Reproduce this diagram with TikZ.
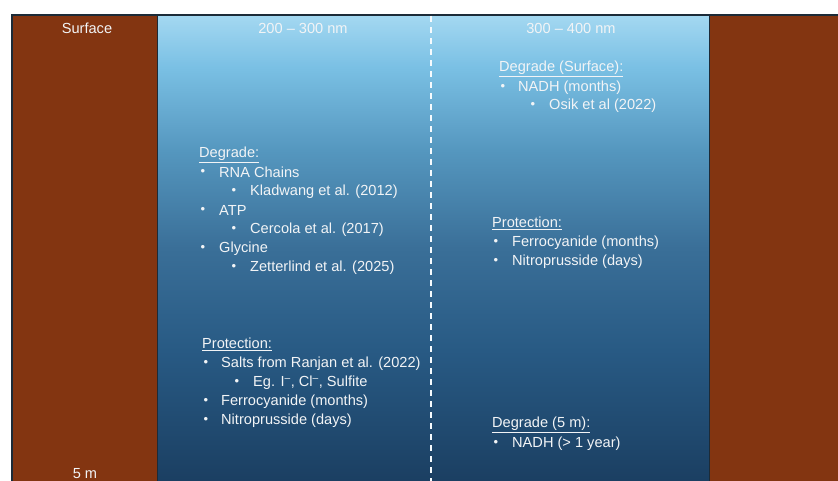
\documentclass[tikz,border=0pt]{standalone}
\usepackage{fontspec}
\setmainfont{Liberation Sans}
\definecolor{soil}{HTML}{833511}
\definecolor{edge}{HTML}{1C2B38}
\definecolor{txt}{HTML}{F2F4F6}
\definecolor{wA}{HTML}{A4D8F1}
\definecolor{wB}{HTML}{7AC0E4}
\definecolor{wC}{HTML}{5597BF}
\definecolor{wD}{HTML}{3A6F98}
\definecolor{wE}{HTML}{285A84}
\definecolor{wF}{HTML}{1B3F62}
\pgfdeclareverticalshading{water}{100bp}{color(0bp)=(wF); color(25bp)=(wF); color(39bp)=(wE); color(50bp)=(wD); color(60.5bp)=(wC); color(69.4bp)=(wB); color(75bp)=(wA); color(100bp)=(wA)}
\tikzset{
  lbl/.style={text=txt, font=\fontsize{14.6}{17}\selectfont, inner sep=0pt, anchor=west},
  hdr/.style={text=txt, font=\fontsize{14.6}{17}\selectfont, inner sep=0pt},
  bul/.style={text=txt, font=\fontsize{13}{15}\selectfont, inner sep=0pt},
}
\begin{document}
\begin{tikzpicture}[x=1pt,y={(0pt,-1pt)}]
\useasboundingbox (0,0) rectangle (838,481);
\fill[white] (0,0) rectangle (838,481);
% columns
\fill[soil] (12,15) rectangle (157,481);
\fill[soil] (709,15) rectangle (838,481);
\shade[shading=water] (157,15) rectangle (709,481);
\draw[edge, line width=1.3pt] (12,481) -- (12,15) -- (838,15);
\draw[edge, line width=1pt] (157,15) -- (157,481);
\draw[edge, line width=1pt] (709,15) -- (709,481);
\coordinate (dtop) at (431,16);
\coordinate (dbot) at (431,481);
\draw[white!90!wA, line width=1.4pt, dash pattern=on 6pt off 5pt] (dtop) -- (dbot);
% headers
\node[hdr] (surf) at (87,28.5) {Surface};
\node[hdr] (fivem) at (85,473.5) {5 m};
\node[hdr] (h1) at (303,28.5) {200 – 300 nm};
\node[hdr] (h2) at (571,28.5) {300 – 400 nm};
% left column, degrade
\node[lbl] (dg1) at (199,154.5) {\underline{Degrade:}};
\node[bul] (b1) at (203,172.5) {•}; \node[lbl] (t1) at (219,172.5) {RNA Chains};
\node[bul] (b2) at (234,191.5) {•}; \node[lbl] (t2) at (250,191.5) {Kladwang et al. (2012)};
\node[bul] (b3) at (203,210.5) {•}; \node[lbl] (t3) at (219,210.5) {ATP};
\node[bul] (b4) at (234,229.5) {•}; \node[lbl] (t4) at (250,229.5) {Cercola et al. (2017)};
\node[bul] (b5) at (203,248.5) {•}; \node[lbl] (t5) at (219,248.5) {Glycine};
\node[bul] (b6) at (234,267.5) {•}; \node[lbl] (t6) at (250,267.5) {Zetterlind et al. (2025)};
% left column, protection
\node[lbl] (pr1) at (202,344.5) {\underline{Protection:}};
\node[bul] (c1) at (206,363.5) {•}; \node[lbl] (u1) at (221,363.5) {Salts from Ranjan et al. (2022)};
\node[bul] (c2) at (237,382.5) {•}; \node[lbl] (u2) at (253,382.5) {Eg. I\textsuperscript{–}, Cl\textsuperscript{–}, Sulfite};
\node[bul] (c3) at (206,401.5) {•}; \node[lbl] (u3) at (221,401.5) {Ferrocyanide (months)};
\node[bul] (c4) at (206,420.5) {•}; \node[lbl] (u4) at (221,420.5) {Nitroprusside (days)};
% right column
\node[lbl] (dg2) at (499,68.5) {\underline{Degrade (Surface):}};
\node[bul] (d1) at (503,87.5) {•}; \node[lbl] (v1) at (518,87.5) {NADH (months)};
\node[bul] (d2) at (533,105.5) {•}; \node[lbl] (v2) at (549,105.5) {Osik et al (2022)};
\node[lbl] (pr2) at (492,223.5) {\underline{Protection:}};
\node[bul] (e1) at (496,242.5) {•}; \node[lbl] (w1) at (512,242.5) {Ferrocyanide (months)};
\node[bul] (e2) at (496,261.5) {•}; \node[lbl] (w2) at (512,261.5) {Nitroprusside (days)};
\node[lbl] (dg3) at (492,424.5) {\underline{Degrade (5 m):}};
\node[bul] (f1) at (496,443.5) {•}; \node[lbl] (x1) at (512,443.5) {NADH (> 1 year)};
\end{tikzpicture}
\end{document}
